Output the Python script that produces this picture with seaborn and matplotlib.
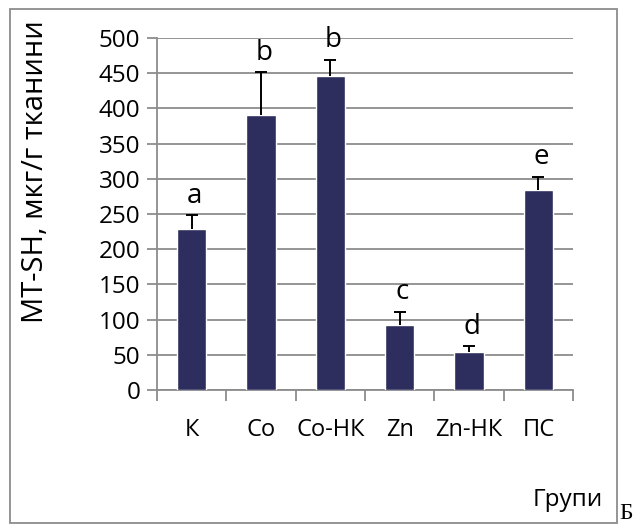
import matplotlib
matplotlib.use("Agg")
import matplotlib.pyplot as plt
import seaborn as sns
import pandas as pd
import numpy as np
from matplotlib.patches import Rectangle

groups = ["К", "Co", "Co-НК", "Zn", "Zn-НК", "ПС"]
means = [228, 390, 446, 92, 54, 284]
errors = [20, 61, 23, 19, 8, 19]
letters = ["a", "b", "b", "c", "d", "e"]
y_ticks = [0, 50, 100, 150, 200, 250, 300, 350, 400, 450, 500]

sns.set_theme(style="white")
plt.rcParams["font.family"] = ["Open Sans", "DejaVu Sans"]

W, H = 638, 526
fig = plt.figure(figsize=(W / 100, H / 100), dpi=100)

def fx(px):
    return px / W

def fy(py):
    return 1 - py / H

ax = fig.add_axes([fx(157), fy(390), fx(573) - fx(157), fy(38) - fy(390)])

df = pd.DataFrame({"group": groups, "value": means})
bar_color = "#2E2E5E"
sns.barplot(data=df, x="group", y="value", color=bar_color, saturation=1,
            width=0.42, errorbar=None, ax=ax, zorder=3)

# upper half of each error bar, with a cap at the top only
xs = np.arange(len(groups))
tops = np.array(means) + np.array(errors)
ax.vlines(xs, means, tops, colors="black", linewidth=1.4, zorder=4)
ax.hlines(tops, xs - 0.085, xs + 0.085, colors="black", linewidth=1.4, zorder=4)

for i, (top, lab) in enumerate(zip(tops, letters)):
    ax.annotate(lab, (i, top), xytext=(2, 4), textcoords="offset points",
                ha="center", va="bottom", fontsize=20, color="black", zorder=5)

ax.set_ylim(0, 500)
ax.set_xlim(-0.5, len(groups) - 0.5)
ax.set_yticks(y_ticks)
ax.set_yticklabels([str(t) for t in y_ticks], fontsize=17.5)
ax.set_xticks(xs)
ax.set_xticklabels(groups, fontsize=17)
ax.set_xlabel("")
ax.set_ylabel("")

grid_col = "#8C8C8C"
ax.yaxis.grid(True, color=grid_col, linewidth=1.3, zorder=0)
ax.set_axisbelow(True)
for side in ["top", "right"]:
    ax.spines[side].set_visible(False)
for side in ["left", "bottom"]:
    ax.spines[side].set_color(grid_col)
    ax.spines[side].set_linewidth(1.3)

ax.tick_params(axis="y", which="major", length=7, width=1.3, color=grid_col,
               direction="out", left=True, pad=5, labelcolor="black")
# category tick marks sit between the bars
ax.tick_params(axis="x", which="major", length=0, pad=20, labelcolor="black")
ax.set_xticks([i - 0.5 for i in range(len(groups) + 1)], minor=True)
ax.tick_params(axis="x", which="minor", length=8, width=1.3, color=grid_col,
               direction="out", bottom=True)

fig.text(fx(36), fy(172), "MT-SH, мкг/г тканини", rotation=90,
         ha="center", va="center", fontsize=21, color="black")
fig.text(fx(568), fy(500), "Групи", ha="center", va="center",
         fontsize=17.5, color="black")
fig.text(fx(619), fy(524), "Б", ha="left", va="bottom", fontsize=17,
         family=["Liberation Serif", "DejaVu Serif"], color="black")

fig.patches.append(Rectangle((fx(10), fy(523)), fx(617) - fx(10),
                             fy(9) - fy(523), transform=fig.transFigure,
                             fill=False, edgecolor="#8C8C8C", linewidth=1.3))

fig.savefig("out.png", dpi=100, facecolor="white")
